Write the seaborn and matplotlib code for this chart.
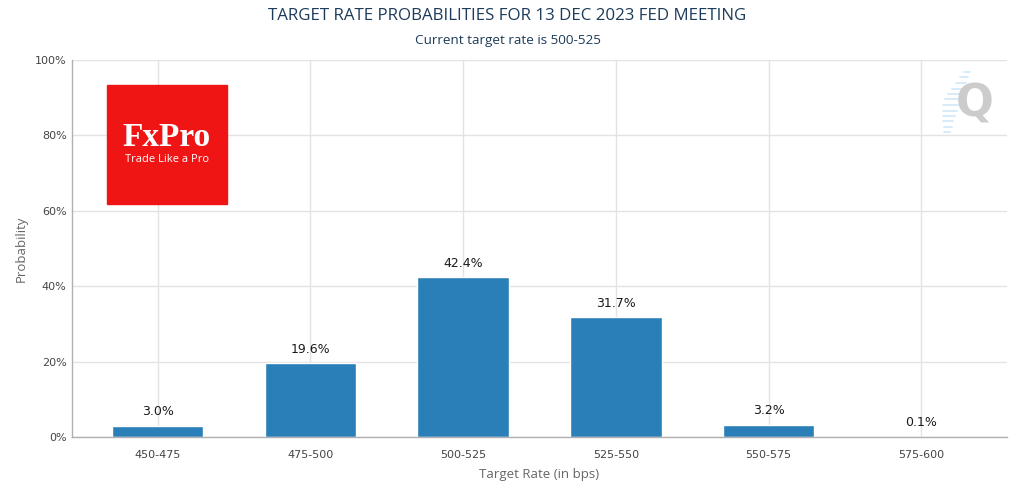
import seaborn as sns
import pandas as pd
import numpy as np
import matplotlib.pyplot as plt
from matplotlib.patches import Rectangle
from matplotlib.lines import Line2D

# data
rates = ['450-475', '475-500', '500-525', '525-550', '550-575', '575-600']
probs = [3.0, 19.6, 42.4, 31.7, 3.2, 0.1]
yticks = [0, 20, 40, 60, 80, 100]

df = pd.DataFrame({'rate': rates, 'prob': probs})

sns.set_theme(style='whitegrid', rc={'grid.color': '#e3e3e3', 'axes.edgecolor': '#b0b0b0'})
plt.rcParams['font.family'] = ['DejaVu Sans']

fig = plt.figure(figsize=(10.15, 4.9), dpi=100)
ax = fig.add_axes([0.071, 0.108, 0.921, 0.77])

sns.barplot(data=df, x='rate', y='prob', color='#2b7fb8', saturation=1, width=0.6, ax=ax)

for i, v in enumerate(probs):
    ax.text(i, v + 2.0, f'{v:.1f}%', ha='center', va='bottom', fontsize=9, color='#1a1a1a')

ax.set_ylim(0, 100)
ax.set_yticks(yticks)
ax.set_yticklabels([f'{t}%' for t in yticks], fontsize=8, color='#444444')
ax.tick_params(axis='x', labelsize=8, labelcolor='#444444', length=5, color='#d0d0d0', pad=4)
ax.tick_params(axis='y', length=0, pad=4)
ax.set_xlim(-0.56, 5.56)
ax.grid(True, axis='both')
ax.set_axisbelow(True)
for s in ['top', 'right']:
    ax.spines[s].set_visible(False)
ax.spines['left'].set_linewidth(1)
ax.spines['bottom'].set_linewidth(1)

ax.set_xlabel('Target Rate (in bps)', fontsize=9.5, color='#666666', labelpad=6,
              family='Open Sans')
ax.set_ylabel('Probability', fontsize=9.5, color='#666666', labelpad=5,
              family='Open Sans')

fig.text(0.5, 0.967, 'TARGET RATE PROBABILITIES FOR 13 DEC 2023 FED MEETING',
         ha='center', va='center', fontsize=12.2, color='#1d3b5a', family='Open Sans')
fig.text(0.5, 0.918, 'Current target rate is 500-525', ha='center', va='center',
         fontsize=9.7, color='#1d3b5a', family='Open Sans')

# FxPro logo box
logo = Rectangle((107 / 1015, 1 - 204 / 490), 120 / 1015, 119 / 490,
                 transform=fig.transFigure, color='#f01515', zorder=5)
fig.add_artist(logo)
fig.text(167 / 1015, 1 - 137 / 490, 'FxPro', ha='center', va='center', fontsize=24,
         color='white', family='Liberation Serif', fontweight='bold', zorder=6)
fig.text(167 / 1015, 1 - 159 / 490, 'Trade Like a Pro', ha='center', va='center',
         fontsize=8, color='white', family='Open Sans', zorder=6)

# Q watermark
for k in range(12):
    yy = 1 - (72 + k * 5.5) / 490
    x1 = (948 + k * 0.0) / 1015
    x0 = x1 - (6 + 2 * min(k, 11 - k)) / 1015
    fig.add_artist(Line2D([x0 + (12 - k) * 1.8 / 1015, x1 + (12 - k) * 1.8 / 1015], [yy, yy],
                          transform=fig.transFigure, color='#cfe8f7', lw=1.2, zorder=5))
fig.text(975 / 1015, 1 - 104 / 490, 'Q', ha='center', va='center', fontsize=32,
         color='#cccccc', fontweight='bold', zorder=6)

fig.savefig('out.png', dpi=100)
